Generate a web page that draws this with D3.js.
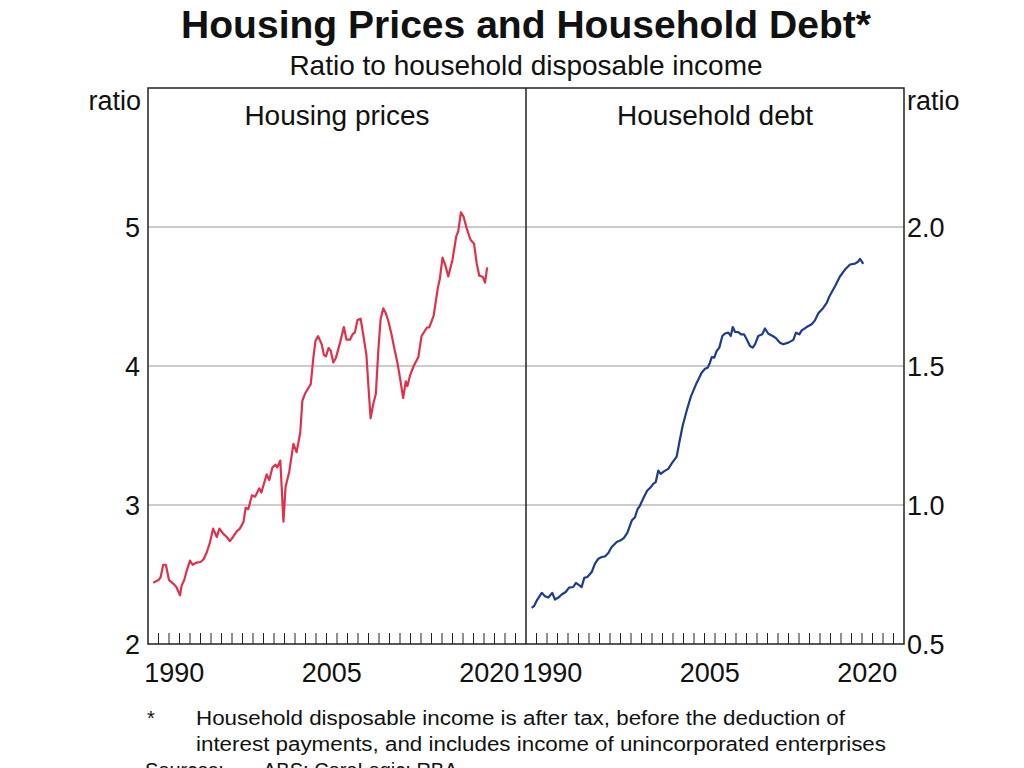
<!DOCTYPE html>
<html>
<head>
  <meta charset="utf-8">
  <title>Housing Prices and Household Debt</title>
  <script src="https://d3js.org/d3.v7.min.js"></script>
  <style>
    body { margin: 0; background: #fff; }
    text { font-family: "Liberation Sans", Arial, sans-serif; fill: #111; }
  </style>
</head>
<body>
<div id="vis"></div>
<script>
// valores (ratio sobre ingreso disponible)
var priceYears = [1988.5,1989.0,1989.2,1989.45,1989.7,1990.0,1990.4,1990.7,1991.05,1991.2,1991.45,1991.7,1992.0,1992.25,1992.6,1993.0,1993.3,1993.6,1993.9,1994.2,1994.55,1994.8,1995.2,1995.5,1995.8,1996.1,1996.45,1996.75,1997.1,1997.3,1997.55,1997.9,1998.2,1998.6,1998.8,1999.3,1999.55,1999.85,2000.15,2000.3,2000.6,2000.9,2001.1,2001.45,2001.85,2002.15,2002.5,2002.7,2002.95,2003.3,2003.5,2003.75,2003.95,2004.2,2004.55,2004.75,2004.95,2005.2,2005.4,2005.65,2005.9,2006.3,2006.65,2006.9,2007.25,2007.5,2007.7,2007.95,2008.25,2008.5,2008.8,2009.0,2009.2,2009.45,2009.7,2009.95,2010.15,2010.4,2010.65,2010.9,2011.2,2011.45,2011.75,2012.0,2012.3,2012.55,2012.7,2012.95,2013.3,2013.75,2014.05,2014.55,2014.8,2015.2,2015.6,2015.8,2016.05,2016.3,2016.6,2017.0,2017.35,2017.55,2017.8,2018.05,2018.35,2018.7,2019.05,2019.3,2019.55,2019.9,2020.1,2020.3];
var priceValues = [2.44,2.46,2.48,2.57,2.57,2.46,2.435,2.41,2.35,2.42,2.46,2.53,2.6,2.57,2.585,2.59,2.61,2.66,2.73,2.83,2.77,2.83,2.79,2.77,2.74,2.77,2.81,2.83,2.88,2.98,2.97,3.07,3.06,3.12,3.09,3.22,3.18,3.27,3.29,3.27,3.32,2.88,3.13,3.24,3.44,3.38,3.52,3.75,3.8,3.845,3.87,4.06,4.18,4.215,4.155,4.08,4.07,4.13,4.11,4.025,4.06,4.17,4.28,4.19,4.19,4.23,4.24,4.33,4.34,4.225,4.08,3.845,3.625,3.725,3.8,4.13,4.335,4.415,4.38,4.32,4.225,4.13,4.025,3.915,3.77,3.89,3.855,3.93,4.0,4.065,4.215,4.275,4.28,4.36,4.56,4.63,4.78,4.73,4.645,4.765,4.93,4.97,5.105,5.075,4.99,4.91,4.88,4.74,4.65,4.64,4.6,4.71];

var debtYears = [1988.54,1988.76,1989.08,1989.5,1989.81,1990.12,1990.5,1990.76,1991.08,1991.4,1991.78,1992.1,1992.5,1992.76,1993.08,1993.3,1993.55,1993.84,1994.26,1994.57,1994.89,1995.21,1995.52,1995.84,1996.16,1996.64,1997.02,1997.33,1997.65,1998.07,1998.38,1998.6,1998.86,1999.17,1999.55,1999.88,2000.12,2000.35,2000.6,2000.83,2001.14,2001.55,2001.88,2002.35,2002.6,2002.92,2003.3,2003.7,2004.26,2004.73,2005.05,2005.3,2005.52,2005.69,2005.93,2006.16,2006.41,2006.7,2006.95,2007.27,2007.5,2007.69,2007.9,2008.22,2008.48,2008.76,2009.02,2009.33,2009.59,2009.81,2010.12,2010.5,2010.76,2011.08,2011.5,2011.81,2012.19,2012.5,2012.98,2013.46,2013.71,2014.03,2014.26,2014.73,2015.21,2015.52,2015.84,2016.31,2016.64,2016.89,2017.43,2017.9,2018.38,2018.86,2019.33,2019.65,2019.81,2020.12];
var debtValues = [0.63,0.636,0.66,0.684,0.672,0.667,0.684,0.66,0.667,0.678,0.687,0.703,0.705,0.72,0.711,0.705,0.738,0.741,0.759,0.789,0.807,0.813,0.815,0.827,0.849,0.867,0.873,0.882,0.9,0.944,0.956,0.983,0.998,1.024,1.052,1.064,1.076,1.082,1.124,1.112,1.121,1.13,1.15,1.174,1.225,1.285,1.339,1.39,1.44,1.476,1.49,1.494,1.512,1.532,1.53,1.554,1.566,1.608,1.617,1.62,1.608,1.64,1.623,1.622,1.614,1.614,1.596,1.572,1.566,1.578,1.608,1.614,1.635,1.616,1.608,1.6,1.584,1.578,1.584,1.594,1.62,1.614,1.628,1.64,1.65,1.664,1.69,1.709,1.727,1.75,1.787,1.822,1.847,1.865,1.868,1.876,1.885,1.867];

var leftTicks = [2, 3, 4, 5];
var rightTicks = ["0.5", "1.0", "1.5", "2.0"];
var yearLabels = [1990, 2005, 2020];

var W = 1024, H = 768;
var top_y = 88, bot_y = 644;
var l0 = 148, mid = 526, r1 = 904;
var fs = 27;

var svg = d3.select("div#vis").append("svg")
  .attr("width", W)
  .attr("height", H);

var yL = d3.scaleLinear().domain([2, 6]).range([bot_y, top_y]);
var yR = d3.scaleLinear().domain([0.5, 2.5]).range([bot_y, top_y]);
var xL = d3.scaleLinear().domain([1988, 2024]).range([l0, mid]);
var xR = d3.scaleLinear().domain([1988, 2024]).range([mid, r1]);

// lineas horizontales
svg.selectAll("line.grid").data(leftTicks.slice(1)).enter().append("line")
  .attr("class", "grid")
  .attr("x1", l0).attr("x2", r1)
  .attr("y1", function(d) { return yL(d); })
  .attr("y2", function(d) { return yL(d); })
  .attr("stroke", "#9a9a9a")
  .attr("stroke-width", 1.2);

// ticks de años
var years = d3.range(1989, 2024);
[xL, xR].forEach(function(x) {
  svg.selectAll(null).data(years).enter().append("line")
    .attr("x1", function(d) { return x(d); })
    .attr("x2", function(d) { return x(d); })
    .attr("y1", bot_y)
    .attr("y2", bot_y - 11)
    .attr("stroke", "#222")
    .attr("stroke-width", 1);

  svg.selectAll(null).data(yearLabels).enter().append("text")
    .attr("x", function(d) { return x(d + 0.5); })
    .attr("y", 682)
    .attr("text-anchor", "middle")
    .attr("font-size", fs)
    .text(function(d) { return d; });
});

// series
var lineL = d3.line()
  .x(function(d) { return xL(d[0]); })
  .y(function(d) { return yL(d[1]); });
var lineR = d3.line()
  .x(function(d) { return xR(d[0]); })
  .y(function(d) { return yR(d[1]); });

svg.append("path")
  .datum(d3.zip(priceYears, priceValues))
  .attr("fill", "none")
  .attr("stroke", "#e0304a")
  .attr("stroke-width", 2.2)
  .attr("stroke-linejoin", "round")
  .attr("d", lineL);

svg.append("path")
  .datum(d3.zip(debtYears, debtValues))
  .attr("fill", "none")
  .attr("stroke", "#1f3c8c")
  .attr("stroke-width", 2.2)
  .attr("stroke-linejoin", "round")
  .attr("d", lineR);

// marco
svg.append("rect")
  .attr("x", l0).attr("y", top_y)
  .attr("width", r1 - l0).attr("height", bot_y - top_y)
  .attr("fill", "none")
  .attr("stroke", "#222")
  .attr("stroke-width", 1.5);
svg.append("line")
  .attr("x1", mid).attr("x2", mid)
  .attr("y1", top_y).attr("y2", bot_y)
  .attr("stroke", "#222")
  .attr("stroke-width", 1.5);

// etiquetas del eje y
svg.selectAll(null).data(leftTicks).enter().append("text")
  .attr("x", 140)
  .attr("y", function(d) { return yL(d) + 10; })
  .attr("text-anchor", "end")
  .attr("font-size", fs)
  .text(function(d) { return d; });

svg.selectAll(null).data(rightTicks).enter().append("text")
  .attr("x", 907)
  .attr("y", function(d) { return yR(+d) + 10; })
  .attr("font-size", fs)
  .text(function(d) { return d; });

svg.append("text").attr("x", 141).attr("y", 110)
  .attr("text-anchor", "end").attr("font-size", fs).text("ratio");
svg.append("text").attr("x", 907).attr("y", 110)
  .attr("font-size", fs).text("ratio");

// titulos
svg.append("text").attr("x", 526).attr("y", 38)
  .attr("text-anchor", "middle").attr("font-size", 38).attr("font-weight", "bold")
  .attr("textLength", 690).attr("lengthAdjust", "spacingAndGlyphs")
  .text("Housing Prices and Household Debt*");
svg.append("text").attr("x", 526).attr("y", 75)
  .attr("text-anchor", "middle").attr("font-size", 28)
  .text("Ratio to household disposable income");

svg.append("text").attr("x", 337).attr("y", 125)
  .attr("text-anchor", "middle").attr("font-size", fs + 1).text("Housing prices");
svg.append("text").attr("x", 715).attr("y", 125)
  .attr("text-anchor", "middle").attr("font-size", fs + 1).text("Household debt");

// nota al pie
svg.append("text").attr("x", 147).attr("y", 725).attr("font-size", 20).text("*");
svg.append("text").attr("x", 196).attr("y", 725).attr("font-size", 20)
  .attr("textLength", 649).attr("lengthAdjust", "spacingAndGlyphs")
  .text("Household disposable income is after tax, before the deduction of");
svg.append("text").attr("x", 196).attr("y", 751).attr("font-size", 20)
  .attr("textLength", 690).attr("lengthAdjust", "spacingAndGlyphs")
  .text("interest payments, and includes income of unincorporated enterprises");
svg.append("text").attr("x", 145).attr("y", 777).attr("font-size", 20)
  .text("Sources:");
svg.append("text").attr("x", 263).attr("y", 777).attr("font-size", 20)
  .text("ABS; CoreLogic; RBA");
</script>
</body>
</html>
